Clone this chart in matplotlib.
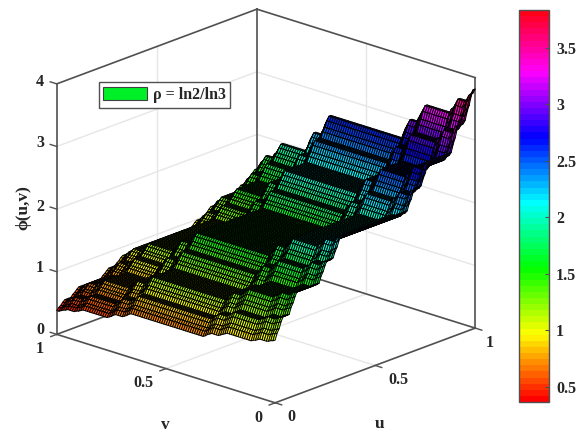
import numpy as np
import matplotlib
matplotlib.use('Agg')
import matplotlib.pyplot as plt
from matplotlib.patches import Patch
from matplotlib.cm import ScalarMappable
from matplotlib.colors import Normalize

# stair heights read along the edges v=0 and u=0
u_levels = [1.00, 1.10, 1.16, 1.26, 1.33, 1.43, 1.49, 1.58, 1.65,
            1.75, 1.81, 1.90, 1.97, 2.06, 2.12, 2.22, 2.28,
            2.38, 2.44, 2.54, 2.60, 2.70, 2.77, 2.87, 2.95,
            3.07, 3.16, 3.29, 3.38, 3.51, 3.60, 3.73, 3.82]
v_levels = [1.00, 0.98, 0.97, 0.95, 0.94, 0.92, 0.90, 0.89, 0.87,
            0.85, 0.83, 0.81, 0.79, 0.77, 0.75, 0.72, 0.70,
            0.68, 0.65, 0.63, 0.61, 0.59, 0.56, 0.54, 0.52,
            0.50, 0.48, 0.47, 0.45, 0.43, 0.42, 0.40, 0.38]
# number of grid points on each stair
stair_points = [1, 1, 1, 1, 4, 1, 1, 1, 12, 1, 1, 1, 4, 1, 1, 1, 34,
                1, 1, 1, 4, 1, 1, 1, 12, 1, 1, 1, 4, 1, 1, 1, 2]

z_ticks = [0, 1, 2, 3, 4]
uv_ticks = [0, 0.5, 1]
cbar_ticks = [0.5, 1, 1.5, 2, 2.5, 3, 3.5]
cbar_labels = ['0.5', '1', '1.5', '2', '2.5', '3', '3.5']
z_min = 0.367
z_max = 3.836

W, H = 577, 436
plt.rcParams['font.family'] = ['Liberation Serif', 'DejaVu Serif']
plt.rcParams['font.weight'] = 'bold'
plt.rcParams['font.size'] = 11.5
TEXT = '#262626'
BOX = '#505050'
GRID = '#e6e6e6'

fig = plt.figure(figsize=(W / 100, H / 100), dpi=100)


def px_text(x, y, s, **kw):
    fig.text(x / W, 1 - y / H, s, ha='center', va='center', color=TEXT, **kw)


# surface
u = np.linspace(0, 1, 101)
v = np.linspace(0, 1, 101)
U, V = np.meshgrid(u, v)
Z = np.outer(np.repeat(v_levels, stair_points), np.repeat(u_levels, stair_points))

ax = fig.add_axes([18.5 / W, -17.5 / H, 482 / W, 482 / H], projection='3d')
ax.set_proj_type('ortho')
ax.set_box_aspect((1, 1, 0.9))
ax.view_init(elev=20, azim=-137.5)
ax.set_xlim(0, 1)
ax.set_ylim(0, 1)
ax.set_zlim(0, 4)
ax.set_axis_off()
ax.computed_zorder = False

cmap = plt.get_cmap('hsv', 64)
ax.plot_surface(U, V, Z, cmap=cmap, vmin=z_min, vmax=z_max, rstride=1, cstride=1,
                edgecolor='k', linewidth=0.7, shade=False, zorder=3)

# grid on the back walls and the floor
for z in z_ticks[1:-1]:
    ax.plot([0, 1], [1, 1], [z, z], color=GRID, lw=1, zorder=1)
    ax.plot([1, 1], [0, 1], [z, z], color=GRID, lw=1, zorder=1)
ax.plot([0.5, 0.5], [1, 1], [0, 4], color=GRID, lw=1, zorder=1)
ax.plot([1, 1], [0.5, 0.5], [0, 4], color=GRID, lw=1, zorder=1)
ax.plot([0.5, 0.5], [0, 1], [0, 0], color=GRID, lw=1, zorder=1)
ax.plot([0, 1], [0.5, 0.5], [0, 0], color=GRID, lw=1, zorder=1)

# box edges
edges = [([0, 1], [0, 0], [0, 0]), ([0, 0], [0, 1], [0, 0]),
         ([1, 1], [0, 1], [0, 0]), ([0, 1], [1, 1], [0, 0]),
         ([0, 0], [1, 1], [0, 4]), ([1, 1], [1, 1], [0, 4]), ([1, 1], [0, 0], [0, 4]),
         ([0, 1], [1, 1], [4, 4]), ([1, 1], [0, 1], [4, 4])]
for ex, ey, ez in edges:
    ax.plot(ex, ey, ez, color=BOX, lw=1.2, zorder=2)

# ticks
for t in uv_ticks:
    ax.plot([t, t], [0, -0.03], [0, 0], color=BOX, lw=1, zorder=2)
    ax.plot([0, -0.03], [t, t], [0, 0], color=BOX, lw=1, zorder=2)
for z in z_ticks:
    ax.plot([0, 0], [1, 1.03], [z, z], color=BOX, lw=1, zorder=2)

# tick labels and axis labels
for s, y in zip(['0', '1', '2', '3', '4'], [330, 268, 207, 143, 82]):
    px_text(40, y, s)
for s, x, y in [('0', 291, 417), ('0.5', 398, 380), ('1', 490, 343)]:
    px_text(x, y, s)
for s, x, y in [('0', 258, 418), ('0.5', 143, 383), ('1', 40, 349)]:
    px_text(x, y, s)
px_text(165, 425, 'v', fontsize=12.5)
px_text(380, 424, 'u', fontsize=12.5)
px_text(23, 208, '\u03d5(u,v)', rotation=90, fontsize=12.5)

# legend
handle = Patch(facecolor='#00f028', edgecolor='#404040', lw=0.8, label='\u03c1 = ln2/ln3')
fig.legend(handles=[handle], loc='center', bbox_to_anchor=(164.5 / W, 1 - 95 / H),
           fancybox=False, framealpha=1, edgecolor=BOX, handlelength=2.75,
           handleheight=0.85, handletextpad=0.35, borderpad=0.3, labelcolor=TEXT)

# colorbar
cax = fig.add_axes([519 / W, 1 - 402 / H, 30 / W, 392 / H])
cb = fig.colorbar(ScalarMappable(Normalize(z_min, z_max), cmap), cax=cax)
cb.set_ticks(cbar_ticks, labels=cbar_labels)
cb.ax.tick_params(direction='in', length=3, width=0.8, color=BOX, labelcolor=TEXT, pad=5)
cb.outline.set_edgecolor(BOX)
cb.outline.set_linewidth(1)

fig.savefig('out.png', dpi=100)
